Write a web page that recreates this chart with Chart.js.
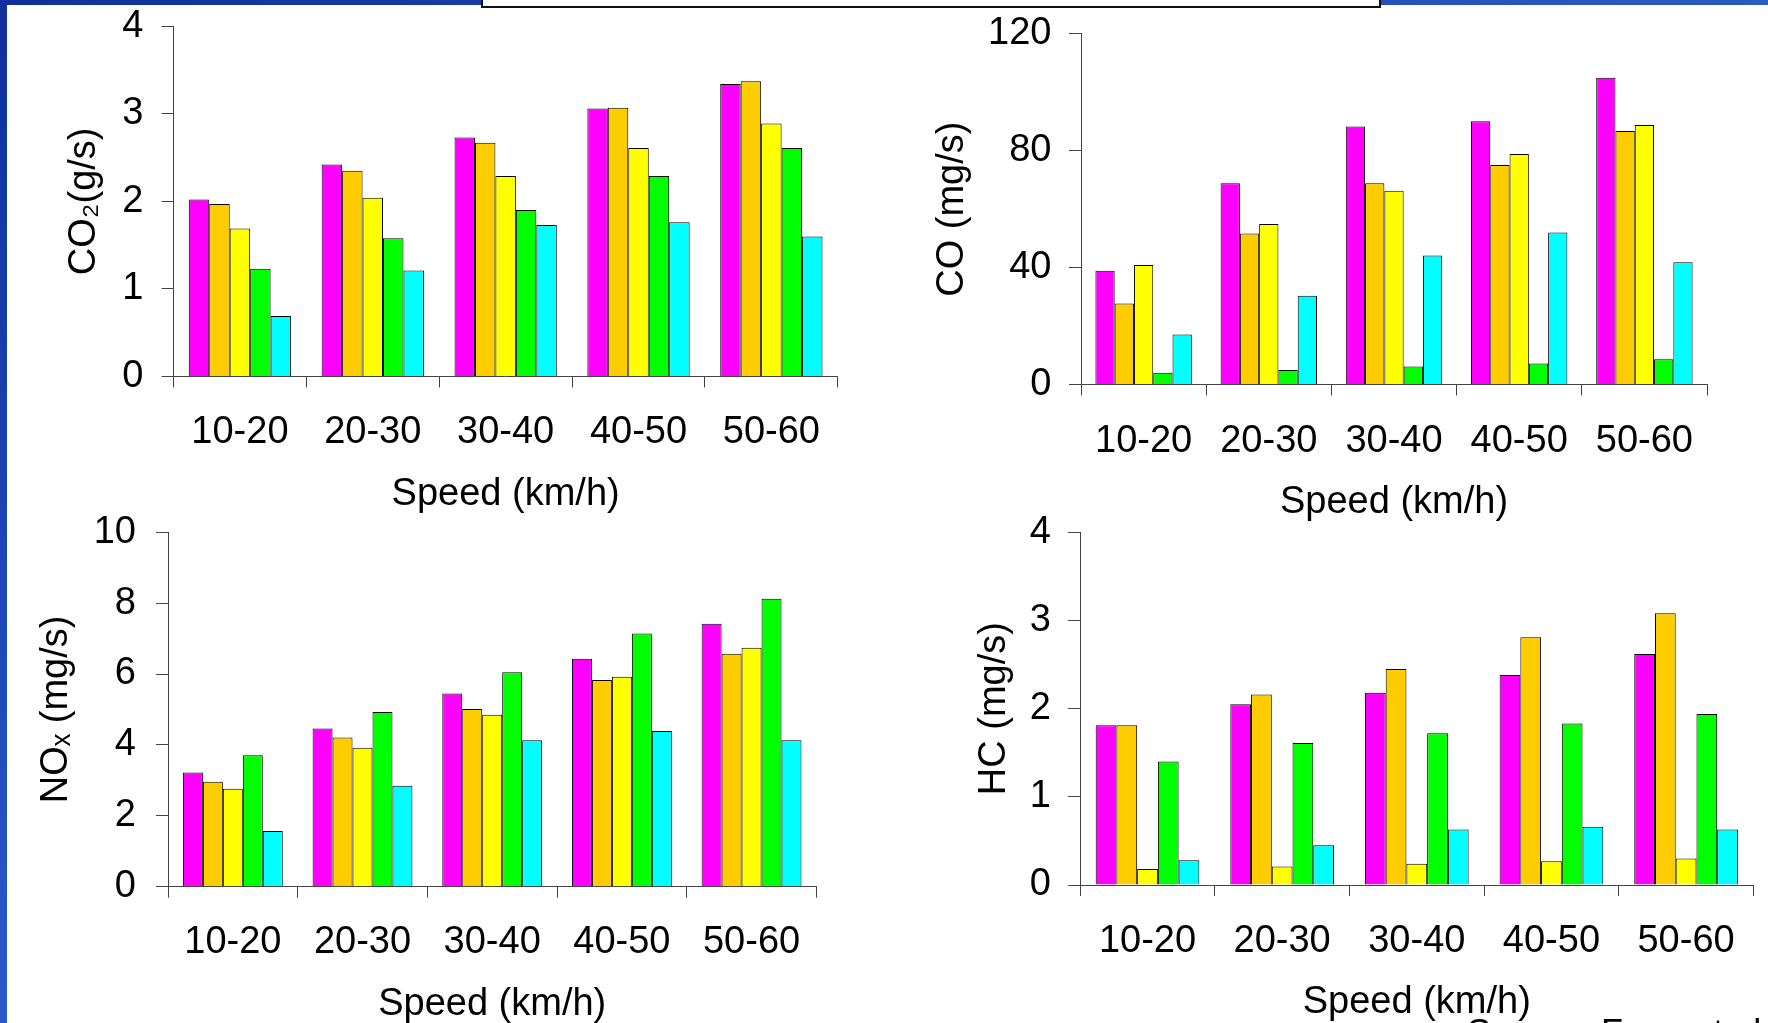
<!DOCTYPE html>
<html><head><meta charset="utf-8">
<script src="https://cdn.jsdelivr.net/npm/chart.js@4.4.1/dist/chart.umd.min.js"></script>
<style>
html,body{margin:0;padding:0;width:1768px;height:1023px;overflow:hidden;background:#fff;font-family:"Liberation Sans",Arial,sans-serif;}
#topband{position:absolute;left:0;top:0;width:1768px;height:5px;background:linear-gradient(to right,#0f2f9c,#2a5ac6);}
#leftband{position:absolute;left:0;top:0;width:7px;height:1023px;background:linear-gradient(to bottom,#0f2f9c,#2a5ac6);}
#box{position:absolute;left:481px;top:-2px;width:900px;height:10px;box-sizing:border-box;border:2px solid #111;background:#fff;}
canvas{position:absolute;}
#source{position:absolute;left:1467px;top:1015px;font-size:36px;line-height:36px;white-space:nowrap;color:#000;}
</style></head>
<body>
<div id="topband"></div><div id="leftband"></div><div id="box"></div>
<canvas id="cCO2"></canvas><canvas id="cCO"></canvas><canvas id="cNOx"></canvas><canvas id="cHC"></canvas>
<div id="source">Source: Feng et al.</div>
<script>
// ---- data ----
const categories = ['10-20','20-30','30-40','40-50','50-60'];
const xTitle = 'Speed (km/h)';

const co2Title = 'CO\u2082(g/s)';
const co2Ticks = [0, 4, 1];
const co2_s1 = [2.02, 2.42, 2.73, 3.06, 3.34];
const co2_s2 = [1.97, 2.35, 2.67, 3.07, 3.37];
const co2_s3 = [1.69, 2.04, 2.29, 2.61, 2.89];
const co2_s4 = [1.23, 1.58, 1.90, 2.29, 2.61];
const co2_s5 = [0.69, 1.21, 1.73, 1.76, 1.60];

const coTitle = 'CO (mg/s)';
const coTicks = [0, 120, 40];
const co_s1 = [38.9, 68.9, 88.3, 90.1, 105.0];
const co_s2 = [27.7, 51.7, 68.9, 75.1, 86.7];
const co_s3 = [40.9, 54.9, 66.3, 78.9, 88.8];
const co_s4 = [4.0, 5.0, 6.2, 7.2, 8.6];
const co_s5 = [17.1, 30.4, 44.1, 52.0, 41.8];

const noxTitle = 'NO\u2093 (mg/s)';
const noxTicks = [0, 10, 2];
const nox_s1 = [3.22, 4.46, 5.45, 6.43, 7.42];
const nox_s2 = [2.96, 4.21, 5.01, 5.83, 6.57];
const nox_s3 = [2.76, 3.92, 4.85, 5.92, 6.74];
const nox_s4 = [3.71, 4.93, 6.05, 7.14, 8.12];
const nox_s5 = [1.57, 2.85, 4.13, 4.39, 4.13];

const hcTitle = 'HC (mg/s)';
const hcTicks = [0, 4, 1];
const hc_s1 = [1.81, 2.05, 2.18, 2.38, 2.62];
const hc_s2 = [1.81, 2.16, 2.45, 2.81, 3.08];
const hc_s3 = [0.18, 0.21, 0.24, 0.27, 0.30];
const hc_s4 = [1.40, 1.61, 1.72, 1.83, 1.94];
const hc_s5 = [0.28, 0.45, 0.63, 0.66, 0.63];

// ---- styling / layout ----
const COLORS = ['#FF00FF', '#FFCC00', '#FFFF00', '#00FF00', '#00FFFF'];
const FAMILY = '"Liberation Sans", Arial, sans-serif';
const FS = 38, LH = FS * 1.2;
const TLX = 11, TLY = 12;
const AXC = '#444';
const LABEL_DY = 3.5, TITLE_DY = 3;

function build(id, g, yTitle, ticks, series) {
  const cv = document.getElementById(id);
  const yTickPad = g.left - TLY - g.yLabelRight;
  const padTop = Math.ceil(LH / 2 + yTickPad + 6), padRight = 24;
  const xLabelY = g.xLabelY + LABEL_DY, xTitleY = g.xTitleY + TITLE_DY;
  const cl = Math.floor(g.yTitleX - LH / 2 - 2);
  const ct = Math.floor(g.top - padTop);
  const cr = Math.ceil(g.right + padRight);
  const cb = Math.ceil(xTitleY + LH / 2 + 2);
  cv.style.left = cl + 'px'; cv.style.top = ct + 'px';
  cv.width = cr - cl; cv.height = cb - ct;
  cv.style.width = (cr - cl) + 'px'; cv.style.height = (cb - ct) + 'px';
  const yW = g.left - cl;
  const xH = cb - g.bottom;
  const font = { size: FS, family: FAMILY, lineHeight: 1.2 };
  new Chart(cv, {
    type: 'bar',
    data: {
      labels: categories,
      datasets: series.map((d, i) => ({
        data: d, backgroundColor: COLORS[i], borderColor: '#000', borderWidth: 1,
        categoryPercentage: 0.77, barPercentage: 1.0
      }))
    },
    options: {
      responsive: false, animation: false, devicePixelRatio: 1,
      layout: { padding: { top: g.top - ct, right: cr - g.right, left: 0, bottom: 0 } },
      plugins: { legend: { display: false }, tooltip: { enabled: false } },
      scales: {
        x: {
          offset: true,
          grid: { display: true, drawOnChartArea: false, drawTicks: true, tickLength: TLX, color: AXC, offset: true },
          border: { display: true, color: AXC, width: 1 },
          ticks: { font: font, color: '#000', padding: xLabelY - g.bottom - TLX - LH / 2, maxRotation: 0, autoSkip: false },
          title: { display: true, text: xTitle, font: font, color: '#000', padding: { top: 0, bottom: cb - LH / 2 - xTitleY } },
          afterFit: s => { s.height = xH; }
        },
        y: {
          min: ticks[0], max: ticks[1],
          grid: { display: true, drawOnChartArea: false, drawTicks: true, tickLength: TLY, color: AXC },
          border: { display: true, color: AXC, width: 1 },
          ticks: { stepSize: ticks[2], font: font, color: '#000', padding: yTickPad },
          title: { display: true, text: yTitle, font: font, color: '#000', padding: { top: g.yTitleX - cl - LH / 2, bottom: 0 } },
          afterFit: s => { s.width = yW; }
        }
      }
    }
  });
}

build('cCO2', { left: 173.5, bottom: 376.5, top: 26.2, right: 837.8, yTitleX: 84.6, yLabelRight: 143.5, xLabelY: 429.5, xTitleY: 491.6 },
  co2Title, co2Ticks, [co2_s1, co2_s2, co2_s3, co2_s4, co2_s5]);
build('cCO', { left: 1081, bottom: 384.5, top: 33.8, right: 1707, yTitleX: 952.8, yLabelRight: 1051.5, xLabelY: 438, xTitleY: 499.5 },
  coTitle, coTicks, [co_s1, co_s2, co_s3, co_s4, co_s5]);
build('cNOx', { left: 168, bottom: 886.7, top: 532.2, right: 816.4, yTitleX: 56.4, yLabelRight: 136, xLabelY: 939.3, xTitleY: 1001.3 },
  noxTitle, noxTicks, [nox_s1, nox_s2, nox_s3, nox_s4, nox_s5]);
build('cHC', { left: 1080.2, bottom: 885, top: 532.2, right: 1753.4, yTitleX: 994.5, yLabelRight: 1051, xLabelY: 938.2, xTitleY: 1000 },
  hcTitle, hcTicks, [hc_s1, hc_s2, hc_s3, hc_s4, hc_s5]);
</script>
</body></html>
